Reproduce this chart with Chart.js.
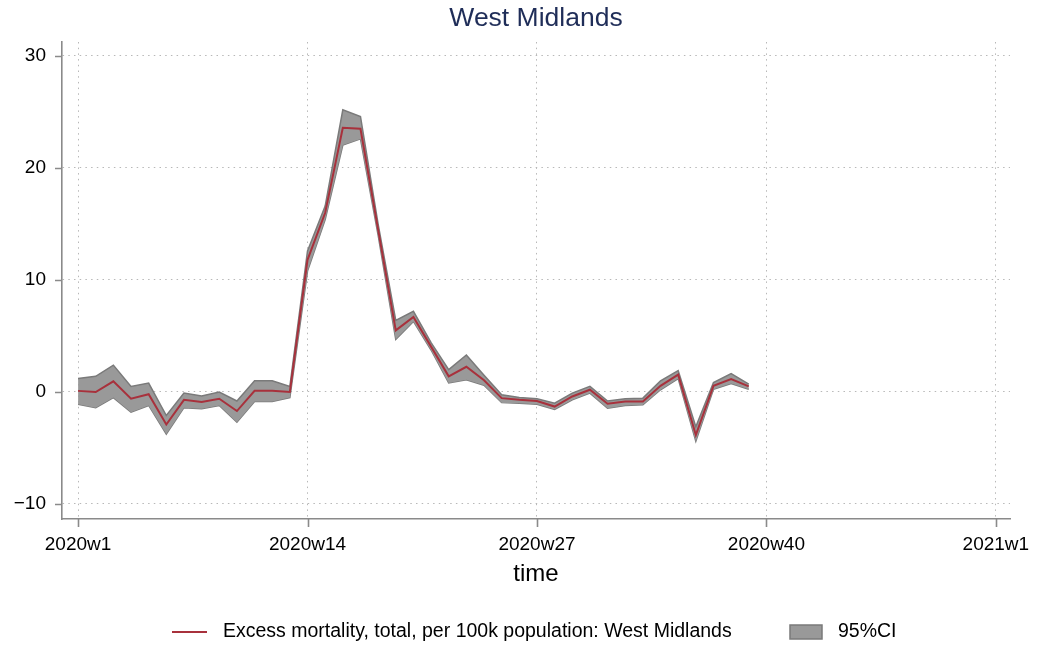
<!DOCTYPE html>
<html>
<head>
<meta charset="utf-8">
<script src="https://cdn.jsdelivr.net/npm/chart.js@4"></script>
<style>
  html, body { margin: 0; padding: 0; background: #fff; }
</style>
</head>
<body>
<canvas id="myChart" width="1038" height="646"></canvas>
<script>
// weekly values
const weeks = [1, 2, 3, 4, 5, 6, 7, 8, 9, 10, 11, 12, 13, 14, 15, 16, 17, 18, 19, 20,
  21, 22, 23, 24, 25, 26, 27, 28, 29, 30, 31, 32, 33, 34, 35, 36, 37, 38, 39];
const excess = [0.1, 0.0, 0.95, -0.6, -0.2, -2.9, -0.7, -0.9, -0.6, -1.7, 0.1, 0.1, 0.0,
  11.8, 16.0, 23.6, 23.5, 14.5, 5.5, 6.7, 4.05, 1.4, 2.25, 1.05, -0.55, -0.7, -0.8, -1.3,
  -0.4, 0.2, -1.05, -0.85, -0.85, 0.55, 1.55, -3.85, 0.55, 1.15, 0.5];
const ciUpper = [1.2, 1.4, 2.4, 0.5, 0.8, -2.1, -0.1, -0.35, 0.0, -0.8, 1.0, 1.0, 0.5,
  12.6, 16.6, 25.2, 24.6, 15.0, 6.4, 7.2, 4.4, 2.0, 3.3, 1.5, -0.25, -0.5, -0.6, -1.0,
  -0.1, 0.5, -0.8, -0.6, -0.55, 1.0, 1.9, -3.1, 0.85, 1.65, 0.7];
const ciLower = [-1.1, -1.4, -0.5, -1.8, -1.2, -3.75, -1.4, -1.5, -1.2, -2.7, -0.85, -0.85, -0.5,
  10.8, 15.4, 22.05, 22.6, 14.0, 4.7, 6.3, 3.75, 0.8, 1.1, 0.6, -0.95, -1.0, -1.1, -1.55,
  -0.7, -0.1, -1.45, -1.2, -1.15, 0.2, 1.2, -4.4, 0.25, 0.75, 0.25];

const xTickWeeks = [1, 14, 27, 40, 53];
const xTickLabels = ['2020w1', '2020w14', '2020w27', '2020w40', '2021w1'];
const yTicks = [-10, 0, 10, 20, 30];

const titleText = 'West Midlands';
const xTitle = 'time';
const lineLabel = 'Excess mortality, total, per 100k population: West Midlands';
const bandLabel = '95%CI';

const FONT = '"Liberation Sans", Arial, Helvetica, sans-serif';
const lineColor = '#a8313c';
const bandFill = '#999999';
const bandEdge = '#7a7a7a';
const axisColor = '#8a8a8a';

const pts = arr => arr.map((v, i) => ({ x: weeks[i], y: v }));

// title, outward tick marks, axis title and legend in Stata style
const stataExtras = {
  id: 'stataExtras',
  afterDraw(chart) {
    const c = chart.ctx;
    const a = chart.chartArea;
    const xs = chart.scales.x, ys = chart.scales.y;
    const cx = (a.left + a.right) / 2;
    c.save();

    c.fillStyle = '#1f2d58';
    c.font = '26.5px ' + FONT;
    c.textAlign = 'center';
    c.textBaseline = 'middle';
    c.fillText(titleText, cx, 19);

    c.strokeStyle = axisColor;
    c.lineWidth = 1.6;
    c.beginPath();
    xTickWeeks.forEach(w => {
      const px = Math.round(xs.getPixelForValue(w)) + 0.5;
      c.moveTo(px, a.bottom); c.lineTo(px, a.bottom + 8);
    });
    yTicks.forEach(v => {
      const py = Math.round(ys.getPixelForValue(v)) + 0.5;
      c.moveTo(a.left - 7, py); c.lineTo(a.left, py);
    });
    c.stroke();

    c.fillStyle = '#000';
    c.font = '24px ' + FONT;
    c.fillText(xTitle, cx, 574);

    // legend
    const ly = 632;
    const lx = cx - 364;
    c.strokeStyle = lineColor;
    c.lineWidth = 2;
    c.beginPath(); c.moveTo(lx, ly); c.lineTo(lx + 35, ly); c.stroke();
    c.font = '19.5px ' + FONT;
    c.textAlign = 'left';
    c.fillStyle = '#000';
    c.fillText(lineLabel, lx + 51, ly);
    c.fillStyle = bandFill;
    c.fillRect(lx + 618, ly - 7, 32, 14);
    c.strokeStyle = bandEdge;
    c.lineWidth = 1.5;
    c.strokeRect(lx + 618, ly - 7, 32, 14);
    c.fillStyle = '#000';
    c.fillText(bandLabel, lx + 666, ly);

    c.restore();
  }
};

const ctx = document.getElementById('myChart');
const myChart = new Chart(ctx, {
  type: 'line',
  data: {
    datasets: [
      {
        label: lineLabel,
        data: pts(excess),
        borderColor: lineColor,
        borderWidth: 2,
        pointRadius: 0,
        tension: 0,
        fill: false,
        order: 0
      },
      {
        label: bandLabel,
        data: pts(ciUpper),
        borderColor: bandEdge,
        borderWidth: 1.5,
        backgroundColor: bandFill,
        pointRadius: 0,
        tension: 0,
        fill: '+1',
        order: 1
      },
      {
        label: 'lower',
        data: pts(ciLower),
        borderColor: bandEdge,
        borderWidth: 1.5,
        pointRadius: 0,
        tension: 0,
        fill: false,
        order: 2
      }
    ]
  },
  options: {
    responsive: false,
    animation: false,
    devicePixelRatio: 1,
    layout: { padding: { top: 42, right: 28, left: 0, bottom: 0 } },
    scales: {
      x: {
        type: 'linear',
        min: 0.09,
        max: 53.8,
        afterBuildTicks: s => { s.ticks = xTickWeeks.map(v => ({ value: v })); },
        afterFit: s => { s.height = 127; s.paddingLeft = 0; s.paddingRight = 0; },
        grid: { color: '#b8b8b8', drawTicks: false },
        border: { color: axisColor, width: 1.6, dash: [1.5, 4.2] },
        ticks: {
          autoSkip: false,
          maxRotation: 0,
          padding: 14,
          color: '#000',
          font: { family: FONT, size: 19 },
          callback: v => xTickLabels[xTickWeeks.indexOf(v)]
        }
      },
      y: {
        min: -11.34,
        max: 31.25,
        afterBuildTicks: s => { s.ticks = yTicks.map(v => ({ value: v })); },
        afterFit: s => { s.width = 62; s.paddingTop = 0; s.paddingBottom = 0; },
        grid: { color: '#b8b8b8', drawTicks: false },
        border: { color: axisColor, width: 1.6, dash: [1.5, 4.2] },
        ticks: {
          padding: 16,
          color: '#000',
          font: { family: FONT, size: 19 },
          callback: v => (v < 0 ? '\u2212' + Math.abs(v) : String(v))
        }
      }
    },
    plugins: {
      legend: { display: false },
      title: { display: false },
      tooltip: { enabled: false }
    }
  },
  plugins: [stataExtras]
});
</script>
</body>
</html>
